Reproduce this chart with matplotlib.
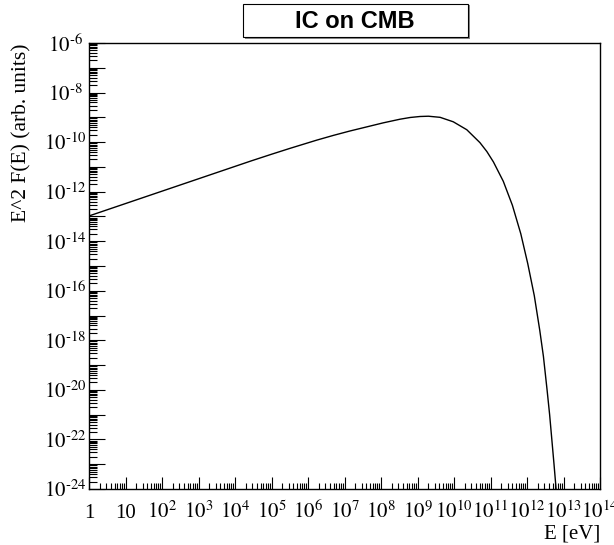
import numpy as np
import matplotlib
matplotlib.use("Agg")
import matplotlib.pyplot as plt
from matplotlib.patches import Rectangle
from matplotlib.ticker import LogLocator, FixedLocator, NullFormatter

plt.rcParams['mathtext.fontset'] = 'stix'
plt.rcParams['font.family'] = ['Liberation Serif', 'DejaVu Serif']

# data: log10(E/eV), log10(E^2 F)
log_e = [0.0, 1.0, 2.0, 3.0, 4.0, 4.44, 5.0, 5.5, 6.24, 6.7, 7.15, 7.6, 8.06,
         8.52, 8.8, 9.07, 9.3, 9.62, 9.98, 10.35, 10.71, 10.9, 11.08, 11.35,
         11.6, 11.83, 12.02, 12.2, 12.35, 12.45, 12.55, 12.62, 12.68, 12.74,
         12.80, 12.82]
log_f = [-12.98, -12.48, -11.98, -11.48, -10.98, -10.76, -10.49, -10.255, -9.92,
         -9.727, -9.551, -9.389, -9.223, -9.076, -9.006, -8.966, -8.955, -9.00,
         -9.18, -9.50, -10.02, -10.38, -10.80, -11.58, -12.55, -13.70, -14.90,
         -16.20, -17.60, -18.65, -20.00, -21.00, -22.00, -23.00, -24.05, -24.40]

title = "IC on CMB"
xlabel = "E [eV]"
ylabel = "E^2 F(E) (arb. units)"
x_exps = list(range(0, 15))
y_exps = list(range(-24, -5, 2))

energy = np.power(10.0, log_e)
flux = np.power(10.0, log_f)

fig = plt.figure(figsize=(6.14, 5.45), dpi=100)
ax = fig.add_axes([89/614, 1 - 489/545, (600-89)/614, (489-43)/545])
ax.plot(energy, flux, color='black', lw=1.0)
ax.set_xscale('log')
ax.set_yscale('log')
ax.set_xlim(1, 1e14)
ax.set_ylim(1e-24, 1e-6)

def xlab(e):
    if e == 0:
        return "1"
    if e == 1:
        return "10"
    return r"$10^{%d}$" % e

def ylab(e):
    return "$10^{\u2010%d}$" % (-e)

ax.xaxis.set_major_locator(FixedLocator([10.0**e for e in x_exps]))
ax.set_xticklabels([xlab(e) for e in x_exps])
ax.xaxis.set_minor_locator(LogLocator(base=10, subs=np.arange(2, 10), numticks=100))
ax.xaxis.set_minor_formatter(NullFormatter())

ax.yaxis.set_major_locator(FixedLocator([10.0**e for e in range(-24, -5)]))
ax.set_yticklabels([ylab(e) if e in y_exps else "" for e in range(-24, -5)])
ax.yaxis.set_minor_locator(LogLocator(base=10, subs=np.arange(2, 10), numticks=100))
ax.yaxis.set_minor_formatter(NullFormatter())

ax.tick_params(axis='x', which='major', direction='in', length=8.6, width=0.8,
               labelsize=15, pad=21, top=False)
ax.tick_params(axis='x', which='minor', direction='in', length=4.3, width=0.8, top=False)
ax.tick_params(axis='y', which='major', direction='in', length=11.5, width=0.8,
               labelsize=15, pad=17, right=False)
ax.tick_params(axis='y', which='minor', direction='in', length=5.8, width=0.8, right=False)
for lab in ax.get_xticklabels():
    lab.set_va('baseline')
for lab in ax.get_yticklabels():
    lab.set_ha('center')
for s in ax.spines.values():
    s.set_linewidth(1.0)

fig.text(600/614, 1 - 538/545, xlabel, ha='right', va='baseline', fontsize=15)
fig.text(22/614, 1 - 43/545, ylabel, ha='center', va='top', rotation=90, fontsize=15.5)

# title box
fig.patches.append(Rectangle((244.5/614, 1 - 38.5/545), (469.5-244.5)/614, 33/545,
                             transform=fig.transFigure, facecolor='#888888',
                             edgecolor='none', zorder=1))
fig.patches.append(Rectangle((243/614, 1 - 37/545), (468-243)/614, 33/545,
                             transform=fig.transFigure, facecolor='white',
                             edgecolor='black', lw=0.8, zorder=2))
fig.text(355/614, 1 - 21/545, title, ha='center', va='center', fontsize=17,
         fontweight='bold', family='Liberation Sans', zorder=3)

fig.savefig("out.png", dpi=100)
